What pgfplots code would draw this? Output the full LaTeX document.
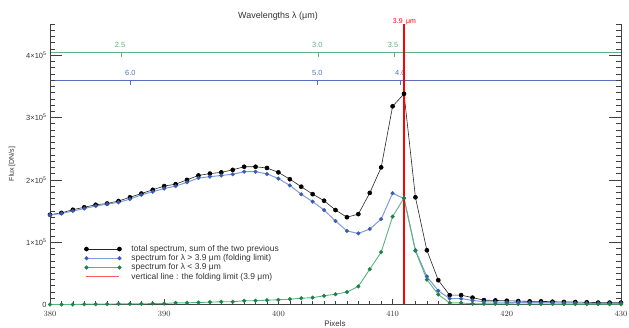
\documentclass[border=0pt]{standalone}
\usepackage{fontspec}
\setmainfont{Liberation Sans}
\usepackage{pgfplots}
\usepackage{pgfplotstable}
\pgfplotsset{compat=1.18}
\definecolor{cblue}{HTML}{3A5BB0}
\definecolor{cbluel}{HTML}{7F9BDB}
\definecolor{cgreen}{HTML}{1A8446}
\definecolor{cgreenl}{HTML}{5CB383}
\definecolor{axgreen}{HTML}{5DB37E}
\definecolor{axblue}{HTML}{5670BE}
\definecolor{txt}{HTML}{333333}

\pgfplotstableread{
x   tot    hi     lo
380 1.44   1.435  0.0
381 1.47   1.46   0.0
382 1.52   1.50   0.0
383 1.56   1.54   0.005
384 1.60   1.58   0.005
385 1.62   1.61   0.005
386 1.66   1.64   0.01
387 1.72   1.69   0.01
388 1.78   1.76   0.01
389 1.84   1.81   0.015
390 1.90   1.86   0.015
391 1.93   1.90   0.027
392 2.00   1.96   0.027
393 2.07   2.03   0.032
394 2.10   2.05   0.038
395 2.12   2.07   0.043
396 2.16   2.09   0.045
397 2.21   2.13   0.06
398 2.21   2.13   0.06
399 2.19   2.095  0.07
400 2.12   2.02   0.075
401 2.01   1.91   0.086
402 1.89   1.77   0.10
403 1.77   1.65   0.11
404 1.665  1.515  0.14
405 1.515  1.34   0.165
406 1.40   1.18   0.20
407 1.45   1.14   0.29
408 1.79   1.21   0.565
409 2.20   1.37   0.84
410 3.18   1.785  1.41
411 3.38   1.70   1.71
412 1.72   0.87   0.86
413 0.87   0.45   0.40
414 0.39   0.22   0.16
415 0.15   0.095  0.025
416 0.15   0.095  0.025
417 0.11   0.065  0.012
418 0.07   0.045  0.01
419 0.065  0.04   0.01
420 0.06   0.035  0.01
421 0.055  0.035  0.008
422 0.05   0.03   0.008
423 0.05   0.03   0.008
424 0.045  0.028  0.007
425 0.04   0.025  0.007
426 0.04   0.025  0.006
427 0.035  0.02   0.006
428 0.03   0.02   0.005
429 0.03   0.02   0.005
430 0.03   0.02   0.005
}\spec

\begin{document}
\begin{tikzpicture}
\path[use as bounding box] (0,0) rectangle (629bp,328bp);
% secondary wavelength scales (decoration, picture coordinates)
\draw[axgreen, line width=0.8bp] (50bp,275.7bp) -- (621bp,275.7bp);
\draw[axblue, line width=0.8bp] (50bp,247.7bp) -- (621bp,247.7bp);
\foreach \xx/\lab in {121/2.5, 318.3/3.0, 394/3.5}{
  \draw[axgreen, line width=0.7bp] (\xx bp,275.7bp) -- ++(0,-5bp);
  \node[font=\fontsize{7.5}{8}\selectfont, text=axgreen] at (\xx bp - 1bp,283.3bp) {\lab};
}
\foreach \xx/\lab in {130.3/6.0, 317.3/5.0, 400.3/4.0}{
  \draw[axblue, line width=0.7bp] (\xx bp,247.7bp) -- ++(0,-5bp);
  \node[font=\fontsize{7.5}{8}\selectfont, text=axblue] at (\xx bp,255bp) {\lab};
}
% bottom x axis
\begin{axis}[
  at={(50bp,23.5bp)}, anchor=south west, scale only axis,
  width=571bp, height=280.5bp,
  xmin=380, xmax=430, ymin=0, ymax=4.5,
  axis y line=none, axis x line*=bottom,
  xtick={380,390,...,430}, minor x tick num=9,
  xtick align=inside,
  major tick length=5.5bp, minor tick length=3.5bp,
  tick style={black!75, line width=0.6bp},
  axis line style={black!75, line width=0.7bp},
  xticklabel style={font=\fontsize{8.5}{9}\selectfont, text=txt, yshift=-3bp},
]
\addplot[draw=none] coordinates {(380,0)};
\end{axis}
% main axis
\begin{axis}[
  at={(50bp,23.5bp)}, anchor=south west, scale only axis,
  width=571bp, height=280.5bp,
  xmin=380, xmax=430, ymin=0, ymax=4.5,
  axis x line=none, axis y line*=box,
  ytick={0,1,2,3,4},
  minor ytick={0,0.1,...,4.55},
  yticklabels={0,1×10\textsuperscript{5},2×10\textsuperscript{5},3×10\textsuperscript{5},4×10\textsuperscript{5}},
  ytick pos=both,
  yticklabel pos=left,
  ytick align=inside,
  major tick length=12bp, minor tick length=5bp,
  tick style={black!75, line width=0.6bp},
  axis line style={black!75, line width=0.7bp},
  yticklabel style={font=\fontsize{7.5}{8}\selectfont, text=txt},
  clip=false,
  legend style={at={(axis cs:383,0.97)}, anchor=north west, draw=none, fill=none,
    inner sep=0pt, font=\fontsize{8.5}{9}\selectfont, text=txt,
    row sep=-0.4bp, column sep=9bp, nodes={inner sep=1bp}},
  legend cell align=left,
  legend image code/.code={\draw plot coordinates {(0bp,0bp) (33bp,0bp)};},
]
\addplot[black!85, line width=0.6bp, mark=*, mark size=2bp, mark options={draw=black, fill=black}]
  table[x=x, y=tot] {\spec};
\addlegendentry{total spectrum, sum of the two previous}
\addplot[cbluel, line width=1bp, mark=*, mark size=1.9bp, mark options={draw=cblue, fill=cblue, line width=0.3bp}]
  table[x=x, y=hi] {\spec};
\addlegendentry{spectrum for λ > 3.9 μm (folding limit)}
\addplot[cgreenl, line width=0.9bp, mark=*, mark size=1.9bp, mark options={draw=cgreen, fill=cgreen, line width=0.3bp}]
  table[x=x, y=lo] {\spec};
\addlegendentry{spectrum for λ < 3.9 μm}
\addplot[red, line width=2bp, legend image post style={draw=red!65, line width=0.7bp}]
  coordinates {(411,0) (411,4.5)};
\addlegendentry{vertical line : the folding limit (3.9 μm)}
\end{axis}
% texts
\node[font=\fontsize{9}{10}\selectfont, text=txt] at (278bp,312bp) {Wavelengths λ (μm)};
\node[font=\fontsize{7}{8}\selectfont, text=red] at (404.5bp,306.3bp) {3.9\hspace{3.5bp}μm};
\node[font=\fontsize{7}{8}\selectfont, text=txt, rotate=90] at (12bp,164bp) {Flux [DN/s]};
\node[font=\fontsize{8}{9}\selectfont, text=txt, anchor=base] at (335bp,1.5bp) {Pixels};
\end{tikzpicture}
\end{document}
